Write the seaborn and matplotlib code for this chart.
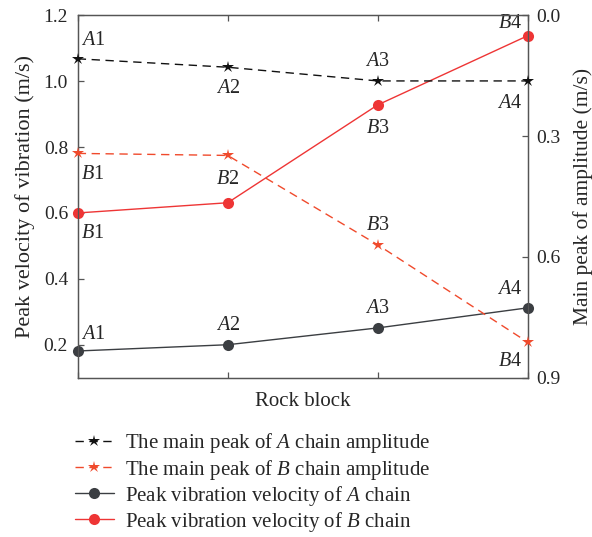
import matplotlib
matplotlib.use("Agg")
import matplotlib.pyplot as plt
import seaborn as sns
import pandas as pd

sns.set_style("ticks")
plt.rcParams["font.family"] = ["Liberation Serif", "DejaVu Serif"]
plt.rcParams["mathtext.fontset"] = "custom"
plt.rcParams["mathtext.rm"] = "Liberation Serif"
plt.rcParams["mathtext.it"] = "Liberation Serif:italic"

# Data
blocks = [1, 2, 3, 4]
amp_a = [0.108, 0.129, 0.163, 0.163]      # main peak of A chain amplitude (right axis)
amp_b = [0.343, 0.348, 0.570, 0.812]      # main peak of B chain amplitude (right axis)
vel_a = [0.181, 0.200, 0.251, 0.312]      # peak vibration velocity of A chain (left axis)
vel_b = [0.600, 0.631, 0.928, 1.138]      # peak vibration velocity of B chain (left axis)

amp_a_labels = ["$\\mathit{A}$1", "$\\mathit{A}$2", "$\\mathit{A}$3", "$\\mathit{A}$4"]
amp_b_labels = ["$\\mathit{B}$1", "$\\mathit{B}$2", "$\\mathit{B}$3", "$\\mathit{B}$4"]
vel_a_labels = ["$\\mathit{A}$1", "$\\mathit{A}$2", "$\\mathit{A}$3", "$\\mathit{A}$4"]
vel_b_labels = ["$\\mathit{B}$1", None, "$\\mathit{B}$3", "$\\mathit{B}$4"]

left_ticks = [0.2, 0.4, 0.6, 0.8, 1.0, 1.2]
right_ticks = [0.0, 0.3, 0.6, 0.9]

df = pd.DataFrame({"block": blocks, "amp_a": amp_a, "amp_b": amp_b,
                   "vel_a": vel_a, "vel_b": vel_b})

BLACK = "#111111"
RED_STAR = "#f04a2c"
RED_DOT = "#ee3535"
GRAY_DOT = "#3b3e42"
SPINE = "#555555"
TICK_FS = 14
TAG_FS = 14.5
LABEL_FS = 15
YLABEL_FS = 16
Y2LABEL_FS = 15.5
LEGEND_FS = 15

fig = plt.figure(figsize=(5.92, 5.37), dpi=100)
ax = fig.add_axes([0.1313, 0.2967, 0.7601, 0.6748])
ax2 = ax.twinx()

sns.lineplot(data=df, x="block", y="vel_a", ax=ax, color=GRAY_DOT, marker="o",
             markersize=8, markeredgewidth=0, linewidth=1.0,
             label="Peak vibration velocity of $\\mathit{A}$ chain", legend=False)
sns.lineplot(data=df, x="block", y="vel_b", ax=ax, color=RED_DOT, marker="o",
             markersize=8, markeredgewidth=0, linewidth=1.0,
             label="Peak vibration velocity of $\\mathit{B}$ chain", legend=False)
sns.lineplot(data=df, x="block", y="amp_a", ax=ax2, color=BLACK, marker="*",
             markersize=9, markeredgewidth=0, linewidth=1.0, linestyle=(0, (6, 4)),
             label="The main peak of $\\mathit{A}$ chain amplitude", legend=False)
sns.lineplot(data=df, x="block", y="amp_b", ax=ax2, color=RED_STAR, marker="*",
             markersize=9, markeredgewidth=0, linewidth=1.0, linestyle=(0, (6, 4)),
             label="The main peak of $\\mathit{B}$ chain amplitude", legend=False)

for a in (ax, ax2):
    for m in a.lines:
        m.set_clip_on(False)
        m.set_zorder(5)

ax.set_xlim(1, 4)
ax.set_ylim(0.1, 1.2)
ax2.set_ylim(0.9, 0.0)
ax.set_xticks([1, 2, 3, 4])
ax.set_xticklabels([])
ax.set_yticks(left_ticks)
ax.set_yticklabels([f"{v:.1f}" for v in left_ticks])
ax2.set_yticks(right_ticks)
ax2.set_yticklabels([f"{v:.1f}" for v in right_ticks])

ax.set_xlabel("Rock block", fontsize=LABEL_FS, labelpad=7)
ax.set_ylabel("Peak velocity of vibration (m/s)", fontsize=YLABEL_FS, labelpad=6)
ax2.set_ylabel("Main peak of amplitude (m/s)", fontsize=Y2LABEL_FS, labelpad=9)

ax.tick_params(axis="both", direction="in", length=4, width=0.9, color=SPINE,
               labelsize=TICK_FS, top=True, bottom=True)
ax.tick_params(axis="y", pad=7)
ax2.tick_params(axis="y", direction="in", length=4, width=0.9, color=SPINE,
                labelsize=TICK_FS, pad=6.5)
for a in (ax, ax2):
    for s in a.spines.values():
        s.set_color(SPINE)
        s.set_linewidth(0.9)
    a.grid(False)


def tag(axis, x, y, text, dx, dy, ha="center", va="center"):
    if text is None:
        return
    axis.annotate(text, (x, y), xytext=(dx, dy), textcoords="offset points",
                  ha=ha, va=va, fontsize=TAG_FS, zorder=6)


amp_a_off = [(2, 13, "left"), (0, -15, "center"), (0, 14, "center"), (-4, -16, "right")]
amp_b_off = [(2, -15, "left"), (0, -17, "center"), (0, 14, "center"), (-4, -14, "right")]
vel_a_off = [(2, 12, "left"), (0, 14, "center"), (0, 14, "center"), (-4, 13, "right")]
vel_b_off = [(2, -15, "left"), (0, 0, "center"), (0, -17, "center"), (-4, 9, "right")]

for x, y, t, (dx, dy, ha) in zip(blocks, amp_a, amp_a_labels, amp_a_off):
    tag(ax2, x, y, t, dx, dy, ha)
for x, y, t, (dx, dy, ha) in zip(blocks, amp_b, amp_b_labels, amp_b_off):
    tag(ax2, x, y, t, dx, dy, ha)
for x, y, t, (dx, dy, ha) in zip(blocks, vel_a, vel_a_labels, vel_a_off):
    tag(ax, x, y, t, dx, dy, ha)
for x, y, t, (dx, dy, ha) in zip(blocks, vel_b, vel_b_labels, vel_b_off):
    tag(ax, x, y, t, dx, dy, ha)

handles = ax2.lines[:2] + ax.lines[:2]
labels = [h.get_label() for h in handles]
fig.legend(handles, labels, loc="upper left", bbox_to_anchor=(0.112, 0.212),
           frameon=False, fontsize=LEGEND_FS, handlelength=1.9, handletextpad=0.5,
           labelspacing=0.1, borderaxespad=0)

fig.savefig("out.png", dpi=100)
